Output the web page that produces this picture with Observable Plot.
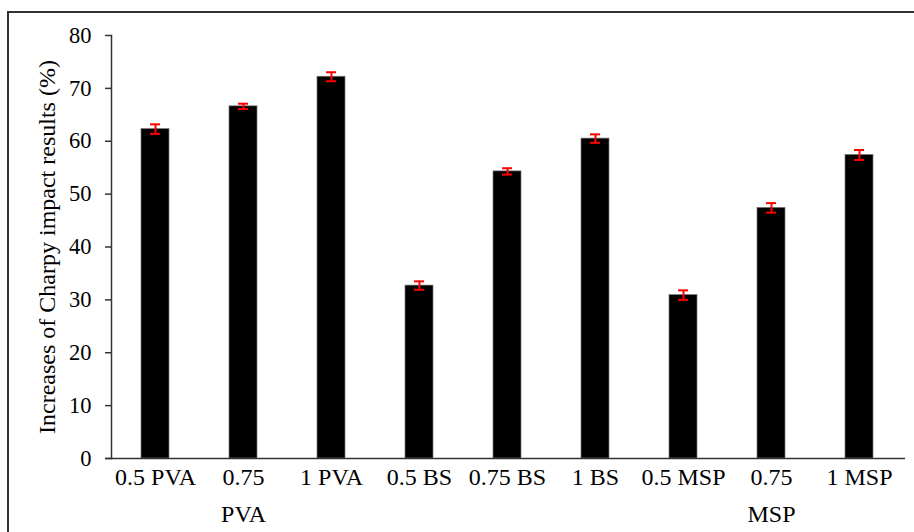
<!DOCTYPE html>
<html>
<head>
<meta charset="utf-8">
<script src="https://cdn.jsdelivr.net/npm/d3@7"></script>
<script src="https://cdn.jsdelivr.net/npm/@observablehq/plot@0.6"></script>
<style>
  html, body { margin: 0; padding: 0; background: #fff; }
  #wrap { position: relative; width: 914px; height: 532px; overflow: hidden; }
  #frame { position: absolute; left: 7px; top: 11px; width: 1000px; height: 1000px;
           border-left: 2px solid #333; border-top: 2px solid #333; box-sizing: border-box; }
  #chart { position: absolute; left: 0; top: 0; }
</style>
</head>
<body>
<div id="wrap"><div id="frame"></div><div id="chart"></div></div>
<script>
const categories = ["0.5 PVA", "0.75 PVA", "1 PVA", "0.5 BS", "0.75 BS", "1 BS", "0.5 MSP", "0.75 MSP", "1 MSP"];
const tickLabels = ["0.5 PVA", "0.75\nPVA", "1 PVA", "0.5 BS", "0.75 BS", "1 BS", "0.5 MSP", "0.75\nMSP", "1 MSP"];
const values = [62.3, 66.6, 72.2, 32.7, 54.3, 60.5, 30.9, 47.4, 57.4];
const errors = [0.9, 0.5, 0.85, 0.8, 0.6, 0.8, 0.9, 0.9, 0.95];
const yTicks = [0, 10, 20, 30, 40, 50, 60, 70, 80];
const yTitle = "Increases of Charpy impact results (%)";

const data = categories.map((c, i) => ({cat: c, v: values[i], e: errors[i]}));
const labelOf = new Map(categories.map((c, i) => [c, tickLabels[i]]));
const font = "'Liberation Serif', 'Times New Roman', serif";

const chart = Plot.plot({
  width: 914,
  height: 532,
  marginLeft: 111,
  marginRight: 11,
  marginTop: 35,
  marginBottom: 74,
  style: {fontFamily: font, fontSize: "22px", background: "transparent", color: "#000"},
  x: {domain: categories, paddingInner: 0.68, paddingOuter: 0.34, label: null, axis: null},
  y: {domain: [0, 80], label: null},
  marks: [
    Plot.barY(data, {x: "cat", y: "v", fill: "#000", stroke: "#777", strokeWidth: 0.7}),
    Plot.ruleX(data, {x: "cat", y1: d => d.v - d.e, y2: d => d.v + d.e, stroke: "#f00", strokeWidth: 2}),
    Plot.tickY(data, {x: "cat", y: d => d.v - d.e, stroke: "#f00", strokeWidth: 2, inset: 9}),
    Plot.tickY(data, {x: "cat", y: d => d.v + d.e, stroke: "#f00", strokeWidth: 2, inset: 9}),
    Plot.axisY({ticks: yTicks, tickSize: 6, tickPadding: 14, fontSize: 22.5, fontFamily: font, label: null, stroke: "#333", strokeWidth: 1.5}),
    Plot.text(categories, {x: d => d, text: d => labelOf.get(d), frameAnchor: "bottom", lineAnchor: "top", dy: 1, fontSize: 24, lineHeight: 1.52, fontFamily: font, fill: "#000"}),
    Plot.frame({anchor: "left", stroke: "#333", strokeWidth: 1.5}),
    Plot.ruleY([0], {stroke: "#333", strokeWidth: 1.5, insetLeft: -6, insetRight: -2}),
    Plot.text([yTitle], {frameAnchor: "left", textAnchor: "middle", rotate: -90, dx: -64, fontSize: 24, fontFamily: font, fill: "#000"})
  ]
});
document.getElementById("chart").appendChild(chart);
</script>
</body>
</html>
